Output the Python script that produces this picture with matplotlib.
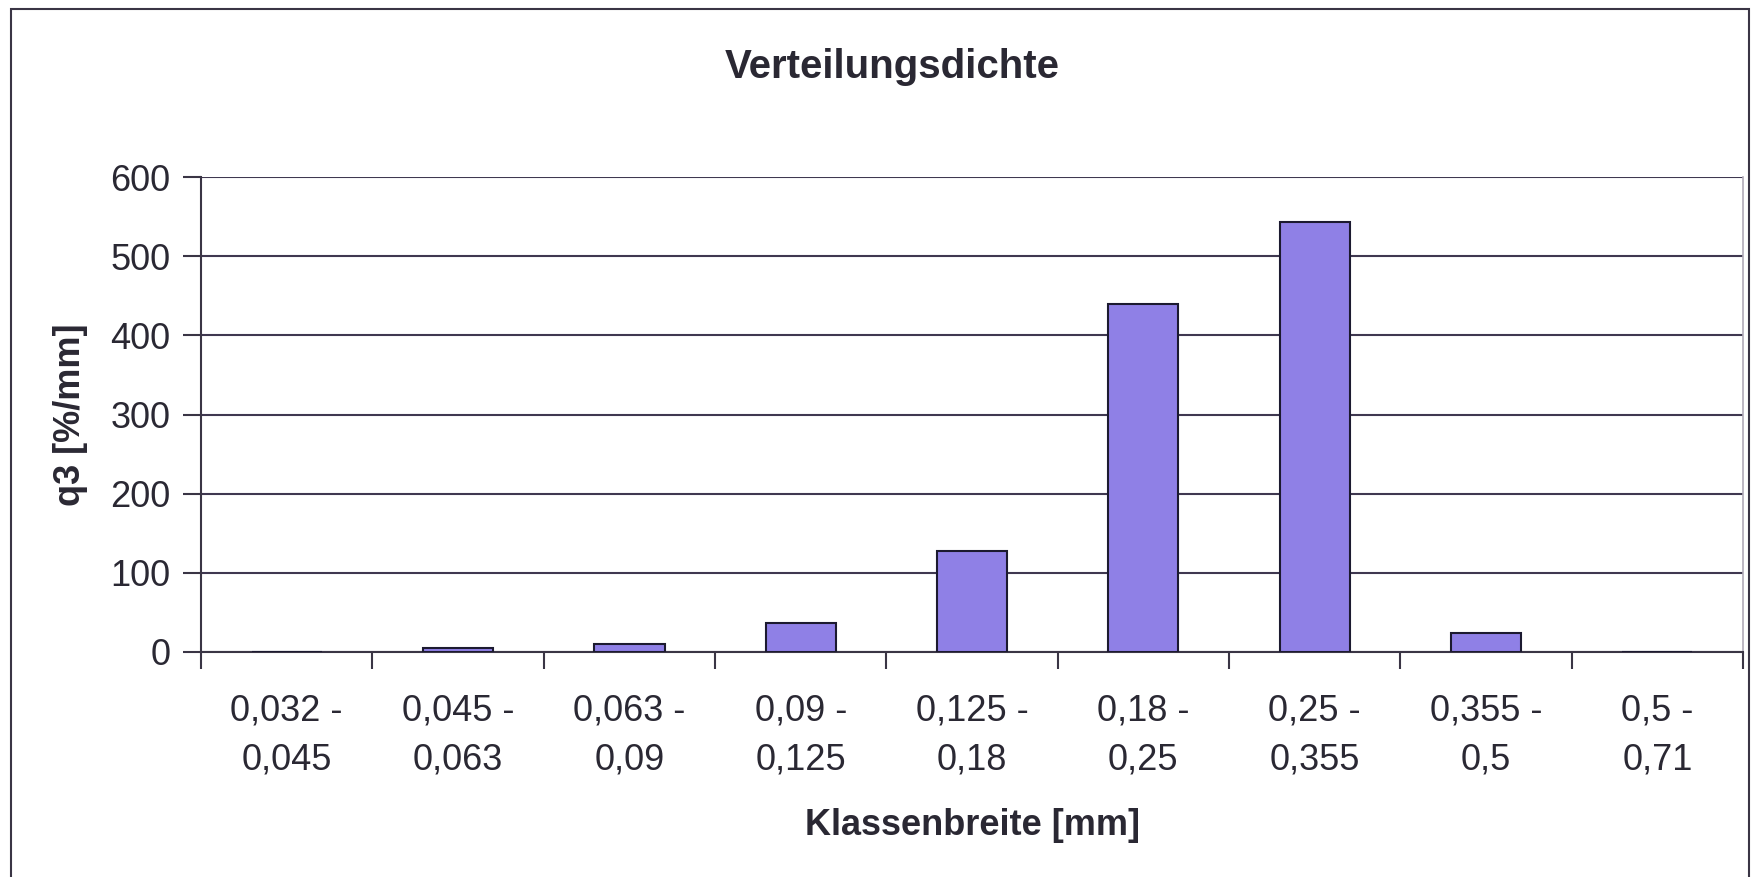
import matplotlib.pyplot as plt
from matplotlib.patches import Rectangle

plt.rcParams['font.family'] = ['Liberation Sans', 'DejaVu Sans']

klassen_von = ['0,032', '0,045', '0,063', '0,09', '0,125', '0,18', '0,25', '0,355', '0,5']
klassen_bis = ['0,045', '0,063', '0,09', '0,125', '0,18', '0,25', '0,355', '0,5', '0,71']
q3 = [0, 4.5, 10.5, 36, 127, 440, 543, 24, 0]
y_ticks = [0, 100, 200, 300, 400, 500, 600]

labels = [a + ' -\n' + b for a, b in zip(klassen_von, klassen_bis)]
x = list(range(len(q3)))

txt = '#2a2833'

fig = plt.figure(figsize=(17.53, 8.77), dpi=100)
ax = fig.add_axes([0.1147, 0.2566, 0.8796, 0.5414])

# chart frame
fig.patches.append(Rectangle((11/1753, -0.05), (1749-11)/1753, 1.05 - 9/877,
                             transform=fig.transFigure, fill=False,
                             edgecolor='#3a3545', linewidth=1.5))

ax.bar(x, q3, width=0.41, color='#8f80e6', edgecolor='#1c1a30', linewidth=1.5, zorder=3)

ax.set_xlim(-0.5, len(q3) - 0.5)
ax.set_ylim(0, 600)
ax.set_yticks(y_ticks)
ax.yaxis.grid(True, color='#3f3850', linewidth=1.5, zorder=0)

ax.set_xticks(x)
ax.set_xticklabels(labels, fontsize=26, color=txt, linespacing=1.5)
ax.set_xticks([i - 0.5 for i in range(len(q3) + 1)], minor=True)
ax.tick_params(axis='x', which='major', length=0, pad=30)
ax.tick_params(axis='x', which='minor', length=12, width=1.5, color='#3a3545', direction='out')
ax.tick_params(axis='y', length=13, width=1.5, color='#3a3545', labelsize=26,
               labelcolor=txt, pad=9)

for s in ['left', 'bottom']:
    ax.spines[s].set_color('#3a3545')
    ax.spines[s].set_linewidth(1.5)
ax.spines['top'].set_visible(False)
ax.spines['right'].set_color('#b0aab8')
ax.spines['right'].set_linewidth(1.2)

ax.set_xlabel('Klassenbreite [mm]', fontsize=26, fontweight='bold', color=txt, labelpad=22)
ax.set_ylabel('q3 [%/mm]', fontsize=26, fontweight='bold', color=txt, labelpad=16)

fig.text(892/1753, 1 - 67/877, 'Verteilungsdichte', fontsize=29, fontweight='bold',
         color=txt, ha='center', va='center')

fig.savefig('out.png', dpi=100)
